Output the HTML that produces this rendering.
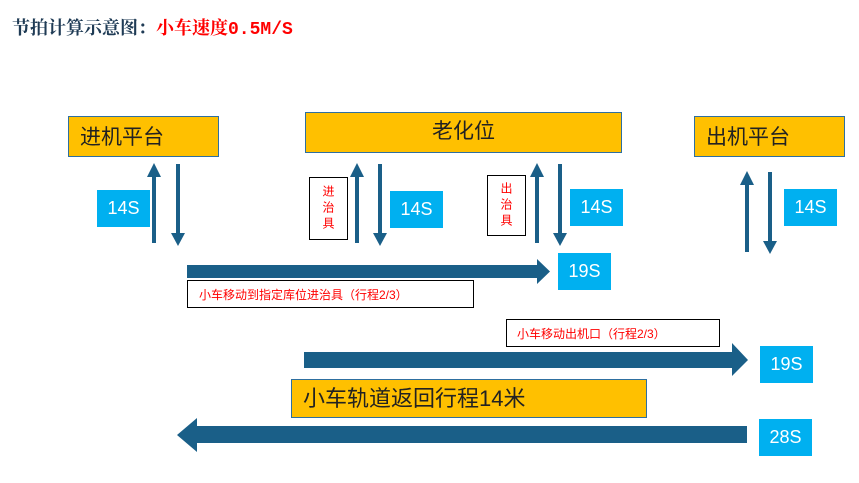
<!DOCTYPE html>
<html><head><meta charset="utf-8">
<style>
html,body{margin:0;padding:0;background:#fff;}
body{width:859px;height:483px;position:relative;overflow:hidden;font-family:"Liberation Sans","Noto Sans CJK SC",sans-serif;}
.a{position:absolute;box-sizing:border-box;}
.y{background:#ffc000;border:1px solid #2e6fa0;color:#222;font-size:21px;line-height:1;}
.b{background:#00b0f0;color:#fff;font-size:18px;display:flex;align-items:center;justify-content:center;}
.w{background:#fff;border:1px solid #000;color:#f00;font-size:12px;}
.v{writing-mode:vertical-rl;display:flex;align-items:center;justify-content:center;letter-spacing:4px;}
</style></head><body>
<div class="a" style="left:12px;top:14px;font-size:18px;font-weight:bold;font-family:'Liberation Serif','Noto Serif CJK SC',serif;color:#1f3b55;white-space:nowrap;">节拍计算示意图：<span style="color:#f00">小车速度<span style="font-family:'Liberation Mono',monospace;">0.5M/S</span></span></div>

<svg class="a" style="left:0;top:0" width="859" height="483">
<g fill="#1a5f88">
<rect x="152" y="175" width="4" height="68"/><polygon points="147,177 154,163 161,177"/>
<rect x="176" y="164" width="4" height="70"/><polygon points="171,233 178,246 185,233"/>
<rect x="355" y="175" width="4" height="68"/><polygon points="350,177 357,163 364,177"/>
<rect x="378" y="164" width="4" height="70"/><polygon points="373,233 380,246 387,233"/>
<rect x="535" y="175" width="4" height="68"/><polygon points="530,177 537,163 544,177"/>
<rect x="558" y="164" width="4" height="70"/><polygon points="553,233 560,246 567,233"/>
<rect x="745" y="183" width="4" height="69"/><polygon points="740,185 747,171 754,185"/>
<rect x="768" y="172" width="4" height="70"/><polygon points="763,241 770,254 777,241"/>
<polygon points="187,265 537,265 537,259 550,271.5 537,284 537,278 187,278"/>
<polygon points="304,352 732,352 732,343 748,360 732,376 732,368 304,368"/>
<polygon points="747,426 197,426 197,418 177,435 197,452 197,443 747,443"/>
</g>
</svg>

<div class="a y" style="left:68px;top:116px;width:151px;height:41px;padding:10px 0 0 11px;">进机平台</div>
<div class="a y" style="left:305px;top:112px;width:317px;height:41px;padding:8px 0 0 0;text-align:center;">老化位</div>
<div class="a y" style="left:694px;top:116px;width:151px;height:41px;padding:10px 0 0 11px;">出机平台</div>
<div class="a y" style="left:291px;top:379px;width:356px;height:39px;padding:8px 0 0 11px;font-size:22px;">小车轨道返回行程14米</div>

<div class="a b" style="left:97px;top:190px;width:53px;height:37px;">14S</div>
<div class="a b" style="left:390px;top:191px;width:53px;height:37px;">14S</div>
<div class="a b" style="left:570px;top:189px;width:53px;height:37px;">14S</div>
<div class="a b" style="left:784px;top:189px;width:53px;height:37px;">14S</div>
<div class="a b" style="left:558px;top:253px;width:53px;height:37px;">19S</div>
<div class="a b" style="left:760px;top:346px;width:53px;height:37px;">19S</div>
<div class="a b" style="left:759px;top:419px;width:53px;height:37px;">28S</div>

<div class="a w v" style="left:309px;top:177px;width:39px;height:63px;">进治具</div>
<div class="a w v" style="left:487px;top:175px;width:39px;height:61px;">出治具</div>
<div class="a w" style="left:187px;top:280px;width:287px;height:28px;padding:5px 0 0 11px;white-space:nowrap;">小车移动到指定库位进治具（行程2/3）</div>
<div class="a w" style="left:506px;top:319px;width:214px;height:28px;padding:5px 0 0 10px;white-space:nowrap;">小车移动出机口（行程2/3）</div>
</body></html>
